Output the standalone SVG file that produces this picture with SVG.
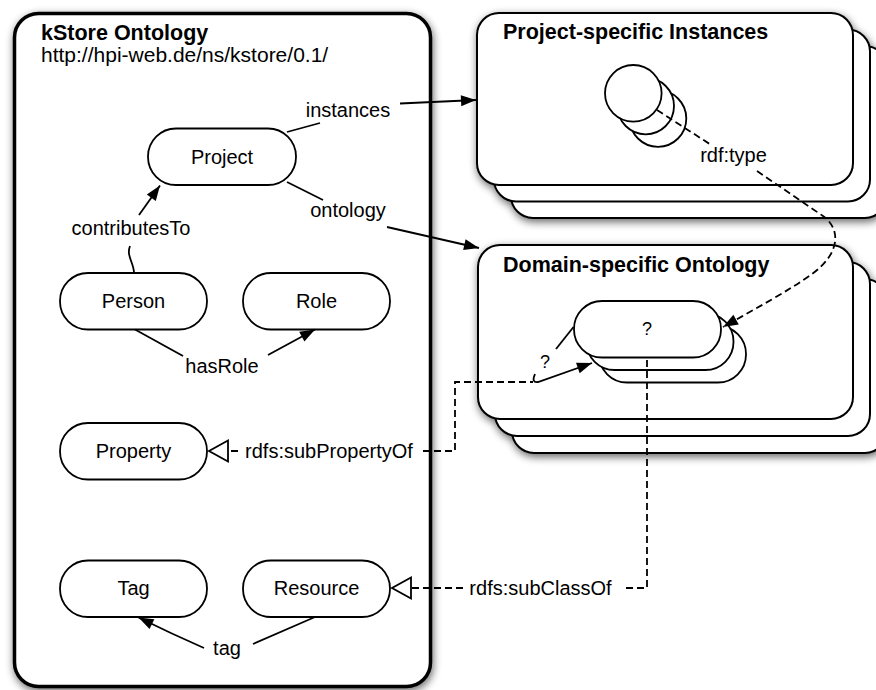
<svg xmlns="http://www.w3.org/2000/svg" width="876" height="690" viewBox="0 0 876 690">
<style>
text{font-family:"Liberation Sans",Arial,Helvetica,sans-serif;fill:#000}
.lbl{font-size:20px;text-anchor:middle}
.title{font-size:21.5px;font-weight:bold}
.url{font-size:21px}
.q{font-size:18px;text-anchor:middle}
.node{fill:#fff;stroke:#000;stroke-width:1.8}
.stack{fill:#fff;stroke:#000;stroke-width:2}
.main{fill:#fff;stroke:#000;stroke-width:3.5}
.ln{fill:none;stroke:#000;stroke-width:1.8}
.arr{marker-end:url(#ah)}
.dash{fill:none;stroke:#000;stroke-width:1.8;stroke-dasharray:7,4}
.hol{marker-end:url(#hol)}
</style>
<defs>
<filter id="sh" x="-10%" y="-10%" width="125%" height="125%">
<feGaussianBlur in="SourceAlpha" stdDeviation="4"/>
<feOffset dx="1" dy="3" result="b"/>
<feComponentTransfer><feFuncA type="linear" slope="0.6"/></feComponentTransfer>
<feMerge><feMergeNode/><feMergeNode in="SourceGraphic"/></feMerge>
</filter>
<marker id="ah" markerUnits="userSpaceOnUse" markerWidth="16" markerHeight="12" refX="15" refY="5.5" orient="auto" overflow="visible">
<path d="M0,0 L15,5.5 L0,11 z" fill="#000"/>
</marker>
<marker id="hol" markerUnits="userSpaceOnUse" markerWidth="21" markerHeight="23" refX="19" refY="10.5" orient="auto" overflow="visible">
<path d="M0,0 L19,10.5 L0,21 z" fill="#fff" stroke="#000" stroke-width="1.8"/>
</marker>
</defs>

<g id="kstore-ontology">
<rect class="main" x="14.5" y="13.5" width="416" height="673" rx="24" filter="url(#sh)"/>
<text class="title" x="41" y="39.5">kStore Ontology</text>
<text class="url" x="41" y="62">http://hpi-web.de/ns/kstore/0.1/</text>
</g>

<g id="project"><rect class="node" x="148" y="128.5" width="148" height="56.5" rx="28"/><text class="lbl" x="222" y="164">Project</text></g>
<g id="person"><rect class="node" x="60" y="273" width="147" height="56.5" rx="28"/><text class="lbl" x="133.5" y="308">Person</text></g>
<g id="role"><rect class="node" x="243" y="273" width="147" height="56.5" rx="28"/><text class="lbl" x="316.5" y="308">Role</text></g>
<g id="property"><rect class="node" x="60" y="423" width="147" height="56.5" rx="28"/><text class="lbl" x="133.5" y="458">Property</text></g>
<g id="tag"><rect class="node" x="60" y="560.5" width="147" height="56.5" rx="28"/><text class="lbl" x="133.5" y="595">Tag</text></g>
<g id="resource"><rect class="node" x="243" y="560.5" width="147" height="56.5" rx="28"/><text class="lbl" x="316.5" y="595">Resource</text></g>

<g id="project-specific-instances">
<g filter="url(#sh)">
<rect class="stack" x="511" y="46" width="376" height="172" rx="22"/>
<rect class="stack" x="494" y="29.5" width="376" height="172" rx="22"/>
<rect class="stack" x="477" y="13" width="376" height="172" rx="22"/>
</g>
<text class="title" x="503" y="39">Project-specific Instances</text>
<circle class="node" cx="658" cy="118.5" r="28.3"/>
<circle class="node" cx="645.7" cy="106" r="28.3"/>
<circle class="node" cx="633.3" cy="93.3" r="28.3"/>
</g>

<g id="domain-specific-ontology">
<g filter="url(#sh)">
<rect class="stack" x="512" y="279" width="375" height="174" rx="22"/>
<rect class="stack" x="495" y="262" width="375" height="174" rx="22"/>
<rect class="stack" x="478" y="245" width="375" height="174" rx="22"/>
</g>
<text class="title" x="503" y="272">Domain-specific Ontology</text>
<rect class="node" x="599" y="326" width="147" height="56.5" rx="28"/>
<rect class="node" x="586.5" y="313.5" width="147" height="56.5" rx="28"/>
<rect class="node" x="574" y="301" width="147" height="56.5" rx="28"/>
<text class="q" x="647" y="335">?</text>
</g>

<g id="connectors">
<path class="ln" d="M287,132 L320,123"/>
<path class="ln arr" d="M400,103.5 L476,100"/>
<text class="lbl" x="348" y="117">instances</text>

<path class="ln" d="M287,182 L323,200"/>
<path class="ln arr" d="M387,227 L479,248"/>
<text class="lbl" x="348" y="217">ontology</text>

<path class="ln arr" d="M139,215 L160,185.5"/>
<path class="ln" d="M130,246 C126,256 134,263 134,273"/>
<text class="lbl" x="131" y="235">contributesTo</text>

<path class="ln" d="M135,329.5 L183,356"/>
<path class="ln arr" d="M268,355 L315,329.5"/>
<text class="lbl" x="222" y="373">hasRole</text>

<path class="ln" d="M315,617 L253,644"/>
<path class="ln arr" d="M204,648 Q172,634 138.5,617.5"/>
<text class="lbl" x="227" y="655">tag</text>

<path class="dash hol" d="M238,451 L209,451"/>
<text class="lbl" x="329" y="457.5">rdfs:subPropertyOf</text>
<path class="dash" d="M423,451 L455,451 L455,382 L533,382"/>
<path class="ln" d="M556,349 L573.5,327"/>
<path class="ln arr" d="M535,374 Q531,383 538,382 L592,363"/>
<text class="q" x="545" y="368">?</text>

<path class="dash hol" d="M463,588 L392,588"/>
<text class="lbl" x="540.5" y="595">rdfs:subClassOf</text>
<path class="dash" d="M626,588 L647,588 L647,357.5"/>

<path class="dash" d="M657,110 L712,145.5"/>
<path class="dash arr" d="M757,171 L823,216 C840,228 842,252 812,274 C790,290 755,309 723,327"/>
<text class="lbl" x="733.5" y="162">rdf:type</text>
</g>
</svg>
